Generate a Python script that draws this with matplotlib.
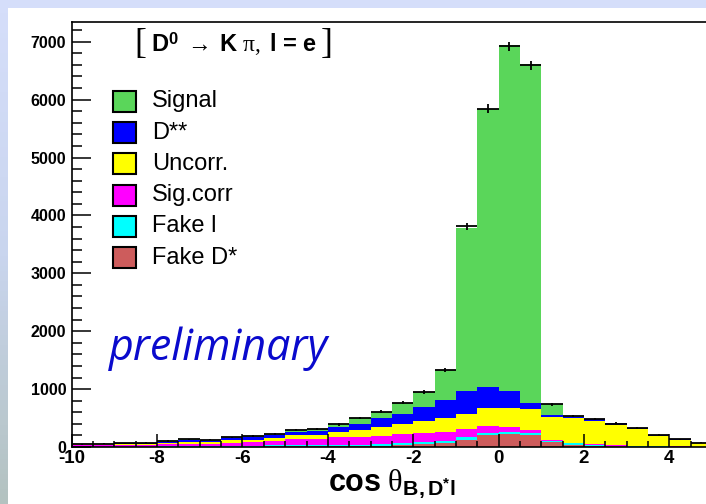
import numpy as np
import matplotlib
matplotlib.use("Agg")
import matplotlib.pyplot as plt
from matplotlib.patches import Rectangle
from matplotlib.colors import LinearSegmentedColormap
from matplotlib.ticker import MultipleLocator

plt.rcParams["font.family"] = ["Liberation Sans", "DejaVu Sans"]
plt.rcParams["axes.unicode_minus"] = False
plt.rcParams["mathtext.fontset"] = "custom"
plt.rcParams["mathtext.rm"] = "Liberation Serif"
plt.rcParams["mathtext.it"] = "Liberation Serif:italic"
plt.rcParams["mathtext.bf"] = "Liberation Sans:bold"
plt.rcParams["mathtext.default"] = "rm"

# cos theta_{B,D*l} bins, width 0.5
edges = np.arange(-10, 5.01, 0.5)

fake_dstar = [3, 3, 3, 3, 3, 3, 3, 5, 5, 10, 10, 12, 17, 17, 23, 35, 50, 75, 125, 202,
              225, 202, 85, 40, 20, 12, 8, 5, 4, 3]
fake_l = [5, 5, 5, 5, 15, 15, 15, 15, 18, 18, 17, 18, 18, 18, 23, 29, 30, 29, 54, 34,
          40, 34, 15, 25, 20, 12, 8, 5, 3, 2]
sig_corr = [25, 25, 27, 27, 30, 40, 38, 55, 60, 70, 104, 110, 144, 133, 151, 161, 157, 161, 140, 127,
            75, 58, 20, 8, 5, 5, 4, 3, 2, 2]
uncorr = [12, 15, 25, 25, 25, 35, 30, 40, 45, 55, 70, 75, 87, 127, 156, 168, 220, 230, 253, 305,
          340, 363, 403, 420, 410, 355, 285, 180, 118, 65]
dss = [3, 2, 3, 3, 15, 27, 20, 35, 42, 47, 59, 68, 87, 104, 144, 179, 242, 317, 387, 363,
       288, 109, 30, 32, 25, 22, 15, 7, 4, 2]
signal = [7, 5, 7, 7, 12, 20, 14, 18, 20, 25, 35, 35, 40, 98, 110, 191, 255, 523, 2831, 4799,
          5982, 5844, 190, 5, 4, 3, 3, 2, 1, 1]

data = [50, 55, 65, 70, 105, 135, 125, 165, 195, 225, 300, 310, 390, 500, 610, 765, 950, 1335, 3810, 5840,
        6920, 6590, 737, 536, 484, 405, 325, 205, 130, 70]

# stacking order, bottom first
stack = [
    ("Fake D*", fake_dstar, "#cd5c5c"),
    ("Fake l", fake_l, "#00ffff"),
    ("Sig.corr", sig_corr, "#ff00ff"),
    ("Uncorr.", uncorr, "#ffff00"),
    ("D**", dss, "#0000ff"),
    ("Signal", signal, "#5ad65a"),
]

fig = plt.figure(figsize=(7.06, 5.04), dpi=100)
fig.patch.set_facecolor("white")

# slide frame behind the plot
bg = fig.add_axes([0, 0, 1, 1], zorder=-10)
bg.axis("off")
bg.set_xlim(0, 706)
bg.set_ylim(504, 0)
bg.add_patch(Rectangle((0, 0), 706, 8, color="#d5defa", lw=0))
grad = LinearSegmentedColormap.from_list("frame", ["#d5defa", "#c9d5ee", "#b3c2c0"])
bg.imshow(np.linspace(0, 1, 100)[:, None], cmap=grad, extent=(0, 8, 504, 8), aspect="auto")

ax = fig.add_axes([0.1016, 0.1131, 0.907, 0.8432])
ax.set_facecolor("none")

bottom = np.zeros(len(edges) - 1)
for name, vals, col in stack:
    top = bottom + np.array(vals)
    ax.stairs(top, edges, baseline=bottom, fill=True, color=col, lw=0)
    bottom = top

centers = 0.5 * (edges[:-1] + edges[1:])
ax.errorbar(centers, data, xerr=0.25, yerr=np.sqrt(data), fmt="none",
            ecolor="black", elinewidth=1.3, capsize=0)

ax.set_xlim(-10, 5)
ax.set_ylim(0, 7340)
ax.xaxis.set_major_locator(MultipleLocator(2))
ax.xaxis.set_minor_locator(MultipleLocator(0.5))
ax.yaxis.set_major_locator(MultipleLocator(1000))
ax.yaxis.set_minor_locator(MultipleLocator(200))
ax.tick_params(axis="y", which="major", direction="in", length=13.5, width=1.1, labelsize=11.5, pad=4)
ax.tick_params(axis="y", which="minor", direction="in", length=7, width=1.1)
ax.tick_params(axis="x", which="major", direction="in", length=9.5, width=1.1, labelsize=13.5, pad=2)
ax.tick_params(axis="x", which="minor", direction="in", length=4.5, width=1.1)
plt.setp(ax.get_xticklabels() + ax.get_yticklabels(), fontweight="bold")
for s in ax.spines.values():
    s.set_linewidth(1.2)

ax.set_xlabel(r"$\mathbf{cos}\ \theta_{\mathbf{B,D}^{\mathbf{*}}\mathbf{l}}$", fontsize=22, va="center")
ax.xaxis.set_label_coords(0.5, -0.085)

# decay mode, brackets drawn tall and thin
fig.text(134 / 706, 1 - 44 / 504, "[", fontsize=26, family="Liberation Serif", va="center", ha="left")
fig.text(321 / 706, 1 - 44 / 504, "]", fontsize=26, family="Liberation Serif", va="center", ha="left")
fig.text(151 / 706, 1 - 44 / 504,
         r"$\mathbf{D}^{\mathbf{0}}\ \rightarrow\ \mathbf{K}\ \pi,\ \mathbf{l\,=\,e}$",
         fontsize=17, va="center", ha="left")

# legend, top entry is the last stacked component
for i, (name, vals, col) in enumerate(stack[::-1]):
    yc = 101.5 + 31.2 * i
    fig.patches.append(Rectangle((113 / 706, 1 - (yc + 10.5) / 504), 23 / 706, 21 / 504,
                                 transform=fig.transFigure, facecolor=col,
                                 edgecolor="black", lw=1.5))
    fig.text(152 / 706, 1 - yc / 504, name, fontsize=17, va="center", ha="left")

fig.text(109 / 706, 1 - 360 / 504, "preliminary", fontsize=31, style="italic",
         family="Open Sans", color="#0a0acd", va="baseline", ha="left")

fig.savefig("out.png", dpi=100)
